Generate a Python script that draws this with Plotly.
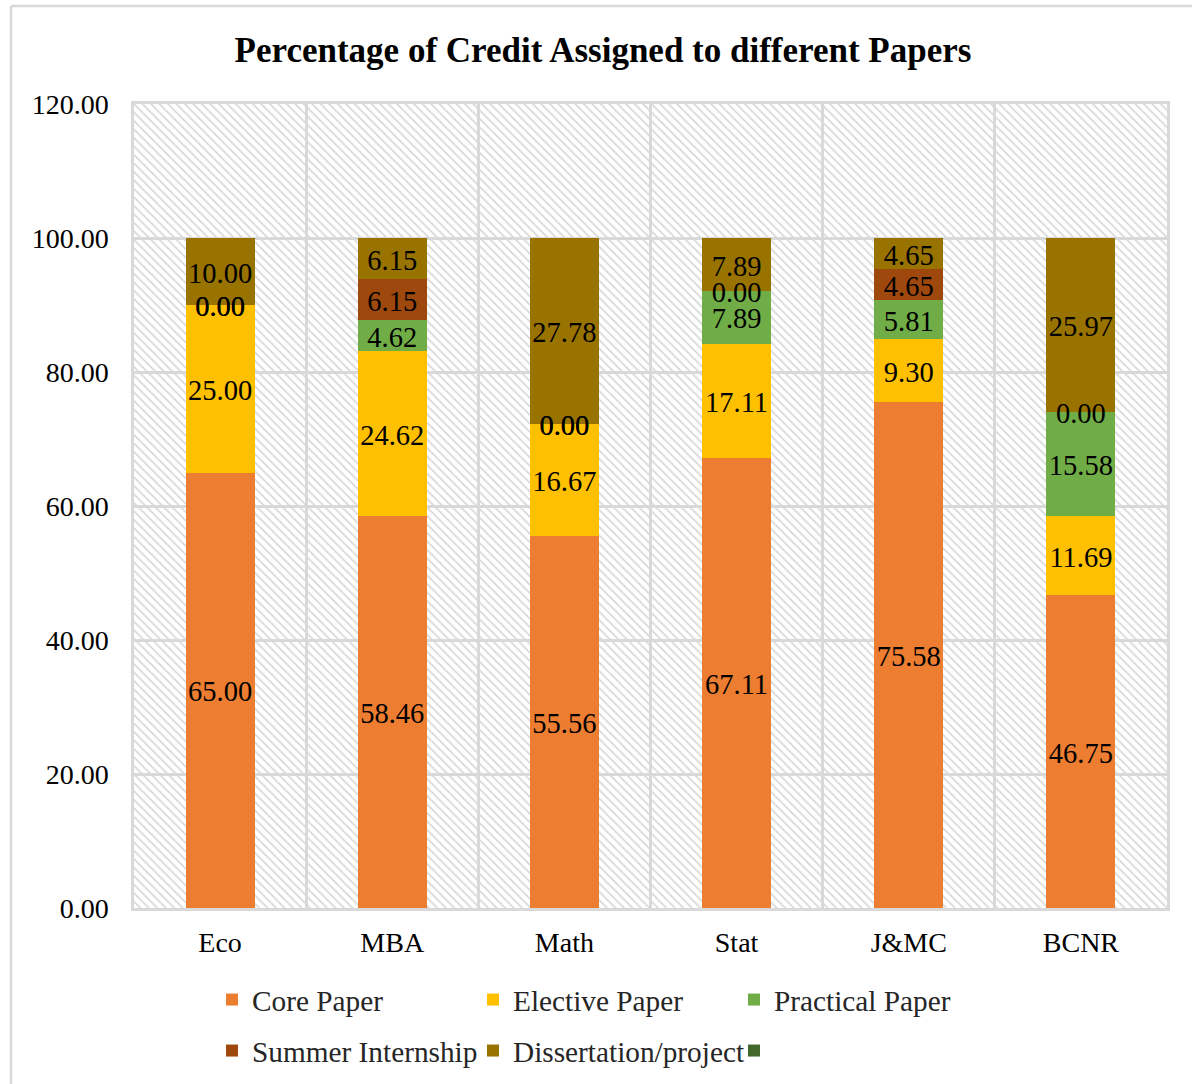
import plotly.graph_objects as go

# Credit share (%) per programme, by paper type
categories = ["Eco", "MBA", "Math", "Stat", "J&MC", "BCNR"]
core_paper = [65.00, 58.46, 55.56, 67.11, 75.58, 46.75]
elective_paper = [25.00, 24.62, 16.67, 17.11, 9.30, 11.69]
practical_paper = [0.00, 4.62, 0.00, 7.89, 5.81, 15.58]
summer_internship = [0.00, 6.15, 0.00, 0.00, 4.65, 0.00]
dissertation_project = [10.00, 6.15, 27.78, 7.89, 4.65, 25.97]
extra_series = [0, 0, 0, 0, 0, 0]

y_ticks = [0, 20, 40, 60, 80, 100, 120]

FONT = "Liberation Serif, Times New Roman, serif"
GRID = "#d9d9d9"
LABEL_NUDGE = 0.6  # small downward nudge of value labels, in axis units

series = [
    ("Core Paper", core_paper, "#ED7D31", "legend"),
    ("Elective Paper", elective_paper, "#FFC000", "legend"),
    ("Practical Paper", practical_paper, "#70AD47", "legend"),
    ("Summer Internship", summer_internship, "#9E480E", "legend2"),
    ("Dissertation/project", dissertation_project, "#997300", "legend2"),
]

fig = go.Figure()

# Hatched plot background, drawn on the hidden numeric x axis
fig.add_trace(go.Bar(
    x=[3], y=[120], width=[6], xaxis="x", yaxis="y",
    marker=dict(color="#d8d8d8", line=dict(width=0),
                pattern=dict(shape="\\", size=6, solidity=0.3, fillmode="replace")),
    showlegend=False, hoverinfo="skip",
))

base = [0.0] * len(categories)
label_x, label_y, label_t = [], [], []
for name, vals, color, leg in series:
    fig.add_trace(go.Bar(
        x=categories, y=vals, name=name, xaxis="x2", yaxis="y",
        marker=dict(color=color, line=dict(width=0)), width=0.4,
        legend=leg,
    ))
    for i, v in enumerate(vals):
        label_x.append(categories[i])
        label_y.append(base[i] + v / 2 - LABEL_NUDGE)
        label_t.append(f"{v:.2f}")
        base[i] += v

fig.add_trace(go.Bar(
    x=categories, y=extra_series, name=" ", xaxis="x2", yaxis="y",
    marker=dict(color="#43682B", line=dict(width=0)), width=0.4,
    legend="legend2",
))

fig.add_trace(go.Scatter(
    x=label_x, y=label_y, text=label_t, mode="text", xaxis="x2", yaxis="y",
    textfont=dict(family=FONT, size=28.5, color="#000000"),
    showlegend=False, hoverinfo="skip",
))

W, H = 1192, 1084
L, R, T, B = 134, 1192 - 1167, 104, 1084 - 908
pw, ph = W - L - R, H - T - B

def px_x(p):
    return (p - L) / pw

def px_y(p):
    return (H - B - p) / ph

legend_common = dict(
    orientation="h", xanchor="left", yanchor="middle",
    xref="container", yref="container",
    font=dict(family=FONT, size=29.3, color="#262626"),
    bgcolor="rgba(0,0,0,0)", entrywidth=216, entrywidthmode="pixels",
    itemclick=False, itemdoubleclick=False, traceorder="normal",
)

fig.update_layout(
    width=W, height=H,
    margin=dict(l=L, r=R, t=T, b=B),
    paper_bgcolor="white", plot_bgcolor="white",
    barmode="stack", bargap=0.6,
    title=dict(text="<b>Percentage of Credit Assigned to different Papers</b>",
               x=603 / W, xref="container", xanchor="center",
               y=1 - 50 / H, yref="container", yanchor="middle",
               font=dict(family=FONT, size=35, color="#000000")),
    xaxis=dict(range=[0, 6], dtick=1, tick0=0, showgrid=True, gridcolor=GRID,
               gridwidth=2.5, showticklabels=False, zeroline=False,
               showline=True, linecolor=GRID, linewidth=2.5, mirror=True,
               fixedrange=True),
    xaxis2=dict(overlaying="x", type="category", categoryorder="array",
                categoryarray=categories, range=[-0.5, 5.5], side="bottom",
                showgrid=False, zeroline=False, showline=False,
                ticks="", ticklabelstandoff=15,
                tickfont=dict(family=FONT, size=28, color="#000000")),
    yaxis=dict(range=[0, 120], tickvals=y_ticks, tickformat=".2f",
               showgrid=True, gridcolor=GRID, gridwidth=2.5, zeroline=False,
               showline=True, linecolor=GRID, linewidth=2.5, mirror=True,
               ticks="", ticklabelstandoff=17,
               tickfont=dict(family=FONT, size=28, color="#000000")),
    legend=dict(x=212 / W, y=1 - 1000 / H, **legend_common),
    legend2=dict(x=212 / W, y=1 - 1051 / H, **legend_common),
    shapes=[
        dict(type="line", xref="paper", yref="paper",
             x0=px_x(11), x1=px_x(11), y0=px_y(6), y1=px_y(1090),
             line=dict(color=GRID, width=2.5)),
        dict(type="line", xref="paper", yref="paper",
             x0=px_x(11), x1=px_x(1200), y0=px_y(6), y1=px_y(6),
             line=dict(color=GRID, width=2.5)),
    ],
)

fig.write_html("out.html")
